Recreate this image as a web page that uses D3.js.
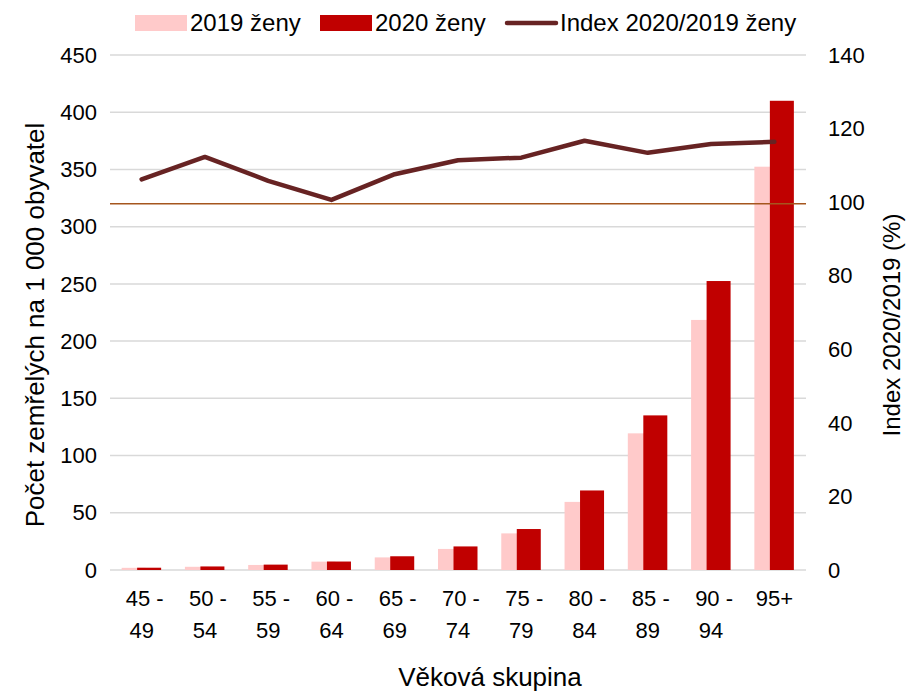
<!DOCTYPE html>
<html><head><meta charset="utf-8">
<script src="https://cdn.jsdelivr.net/npm/d3@7"></script>
<style>
body{margin:0;background:#fff;}
text{font-family:"Liberation Sans",Arial,sans-serif;fill:#000;}
</style></head>
<body><svg id="c" width="906" height="693"></svg>
<script>
const categories = ["45 - 49","50 - 54","55 - 59","60 - 64","65 - 69","70 - 74","75 - 79","80 - 84","85 - 89","90 - 94","95+"];
const women2019 = [1.9, 2.8, 4.4, 7.3, 11.0, 18.4, 32.0, 59.5, 119.4, 218.5, 352.4];
const women2020 = [2.0, 3.1, 4.7, 7.4, 12.0, 20.6, 35.8, 69.5, 135.1, 252.5, 410.0];
const index2020 = [106.2, 112.3, 105.8, 100.6, 107.6, 111.4, 112.1, 116.7, 113.4, 115.8, 116.4];
const referenceIndex = 100;
const leftTicks = [0,50,100,150,200,250,300,350,400,450];
const rightTicks = [0,20,40,60,80,100,120,140];
const legendLabels = ["2019 ženy","2020 ženy","Index 2020/2019 ženy"];
const xTitle = "Věková skupina";
const yTitle = "Počet zemřelých na 1 000 obyvatel";
const y2Title = "Index 2020/2019 (%)";

const svg = d3.select("#c");
const L = 110, R = 806, T = 55, B = 570;
const x = d3.scaleBand().domain(categories).range([L, R]);
const y = d3.scaleLinear().domain([0, 450]).range([B, T]);
const y2 = d3.scaleLinear().domain([0, 140]).range([B, T]);

// gridlines
svg.append("g").selectAll("line").data(leftTicks).join("line")
  .attr("x1", L).attr("x2", R)
  .attr("y1", d => y(d)).attr("y2", d => y(d))
  .attr("stroke", "#d9d9d9").attr("stroke-width", 1.5);

// left tick labels
svg.append("g").selectAll("text").data(leftTicks).join("text")
  .attr("x", 97).attr("y", d => y(d)).attr("dy", "0.35em")
  .attr("text-anchor", "end").attr("font-size", 22).text(d => d);
// right tick labels
svg.append("g").selectAll("text").data(rightTicks).join("text")
  .attr("x", 828).attr("y", d => y2(d)).attr("dy", "0.35em")
  .attr("text-anchor", "start").attr("font-size", 22).text(d => d);

// bars
const bw = 24;
const c = d => x(d) + x.bandwidth() / 2;
svg.append("g").selectAll("rect").data(categories).join("rect")
  .attr("x", d => c(d) - 20).attr("width", bw)
  .attr("y", (d, i) => y(women2019[i])).attr("height", (d, i) => B - y(women2019[i]))
  .attr("fill", "#ffcaca");
svg.append("g").selectAll("rect").data(categories).join("rect")
  .attr("x", d => c(d) - 4.5).attr("width", bw)
  .attr("y", (d, i) => y(women2020[i])).attr("height", (d, i) => B - y(women2020[i]))
  .attr("fill", "#c00000");

// reference line at 100
svg.append("line").attr("x1", L).attr("x2", R)
  .attr("y1", y2(referenceIndex) + 1.5).attr("y2", y2(referenceIndex) + 1.5)
  .attr("stroke", "#a5561e").attr("stroke-width", 1.5);

// index line
const line = d3.line().x((d, i) => c(categories[i])).y(d => y2(d));
svg.append("path").datum(index2020).attr("d", line)
  .attr("fill", "none").attr("stroke", "#672323").attr("stroke-width", 4.5)
  .attr("stroke-linejoin", "round").attr("stroke-linecap", "round");

// category labels
const cat = svg.append("g").selectAll("text").data(categories).join("text")
  .attr("text-anchor", "middle").attr("font-size", 22);
cat.each(function(d) {
  const parts = d.split(" - ");
  const t = d3.select(this);
  const cx = c(d);
  if (parts.length === 2) {
    t.append("tspan").attr("x", cx + 3).attr("y", 606).text(parts[0] + " -");
    t.append("tspan").attr("x", cx).attr("y", 638).text(parts[1]);
  } else {
    t.append("tspan").attr("x", cx).attr("y", 606).text(d);
  }
});

// axis titles
svg.append("text").attr("x", 490).attr("y", 686).attr("text-anchor", "middle")
  .attr("font-size", 26).text(xTitle);
svg.append("text").attr("transform", "translate(44,325) rotate(-90)")
  .attr("text-anchor", "middle").attr("font-size", 26).text(yTitle);
svg.append("text").attr("transform", "translate(900,325) rotate(-90)")
  .attr("text-anchor", "middle").attr("font-size", 24).text(y2Title);

// legend
const lg = svg.append("g");
const ly = 23;
lg.append("rect").attr("x", 135).attr("y", ly - 8).attr("width", 52).attr("height", 16).attr("fill", "#ffcaca");
lg.append("text").attr("x", 190).attr("y", ly).attr("dy", "0.35em").attr("font-size", 24).text(legendLabels[0]);
lg.append("rect").attr("x", 320).attr("y", ly - 8).attr("width", 52).attr("height", 16).attr("fill", "#c00000");
lg.append("text").attr("x", 375).attr("y", ly).attr("dy", "0.35em").attr("font-size", 24).text(legendLabels[1]);
lg.append("line").attr("x1", 507).attr("x2", 556).attr("y1", ly).attr("y2", ly)
  .attr("stroke", "#672323").attr("stroke-width", 4.5).attr("stroke-linecap", "round");
lg.append("text").attr("x", 560).attr("y", ly).attr("dy", "0.35em").attr("font-size", 24).text(legendLabels[2]);
</script></body></html>
